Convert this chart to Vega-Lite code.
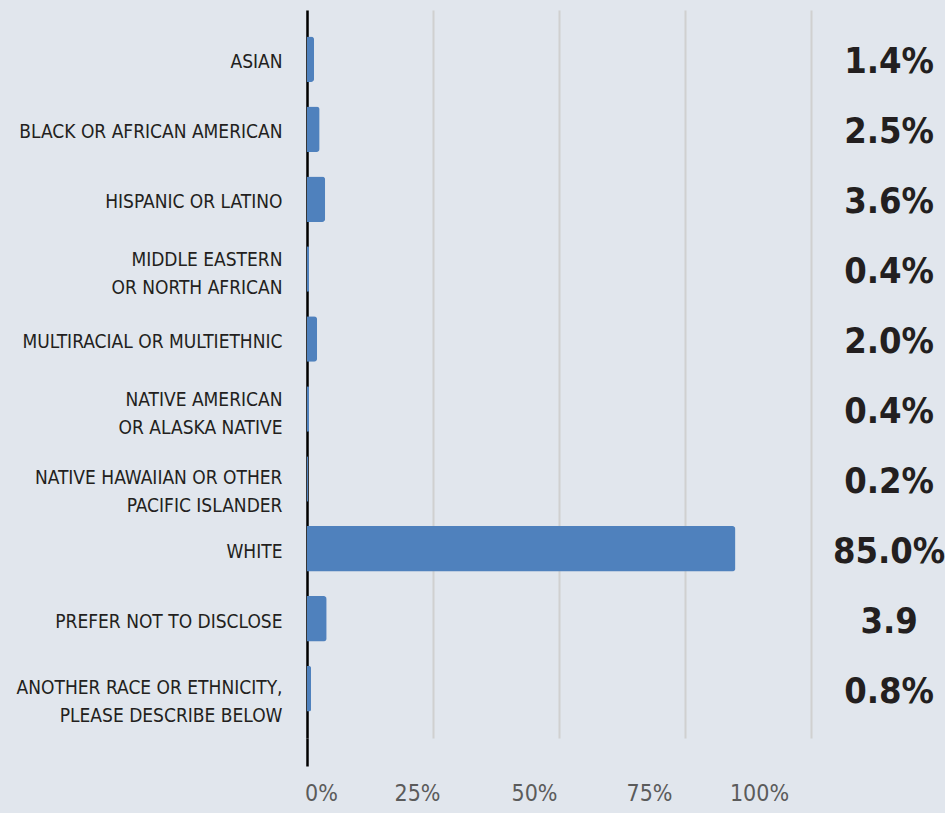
{
  "$schema": "https://vega.github.io/schema/vega-lite/v6.json",
  "autosize": {"type": "none"},
  "padding": {"left": 307, "top": 10, "right": 134, "bottom": 75},
  "width": 504,
  "height": 728,
  "background": "#e1e6ed",
  "config": {"view": {"stroke": null}},
  "data": {
    "values": [
      {"cat": "ASIAN", "pct": 1.4, "label": "1.4%"},
      {"cat": "BLACK OR AFRICAN AMERICAN", "pct": 2.5, "label": "2.5%"},
      {"cat": "HISPANIC OR LATINO", "pct": 3.6, "label": "3.6%"},
      {"cat": "MIDDLE EASTERN|OR NORTH AFRICAN", "pct": 0.4, "label": "0.4%"},
      {"cat": "MULTIRACIAL OR MULTIETHNIC", "pct": 2.0, "label": "2.0%"},
      {"cat": "NATIVE AMERICAN|OR ALASKA NATIVE", "pct": 0.4, "label": "0.4%"},
      {"cat": "NATIVE HAWAIIAN OR OTHER|PACIFIC ISLANDER", "pct": 0.2, "label": "0.2%"},
      {"cat": "WHITE", "pct": 85.0, "label": "85.0%"},
      {"cat": "PREFER NOT TO DISCLOSE", "pct": 3.9, "label": "3.9"},
      {"cat": "ANOTHER RACE OR ETHNICITY,|PLEASE DESCRIBE BELOW", "pct": 0.8, "label": "0.8%"}
    ]
  },
  "encoding": {
    "y": {
      "field": "cat",
      "type": "nominal",
      "sort": null,
      "title": null,
      "scale": {"paddingInner": 0.35, "paddingOuter": 0.38},
      "axis": {
        "labelExpr": "split(datum.label, '|')",
        "labelFont": "DejaVu Sans Condensed",
        "labelFontSize": 19,
        "labelColor": "#231f20",
        "labelLineHeight": 28,
        "labelPadding": 25,
        "labelOffset": {"expr": "indexof(datum.label, 'MIDDLE') >= 0 || indexof(datum.label, 'NATIVE AMERICAN') >= 0 ? -9 : indexof(datum.label, '|') >= 0 ? -1 : 3"},
        "ticks": false,
        "tickSize": 0,
        "domainColor": "#000000",
        "domainWidth": 2.5,
        "grid": false,
        "labelLimit": 400
      }
    }
  },
  "layer": [
    {
      "mark": {"type": "bar", "color": "#4f81bd", "cornerRadiusEnd": 3},
      "encoding": {
        "x": {
          "field": "pct",
          "type": "quantitative",
          "title": null,
          "scale": {"domain": [0, 100], "nice": false},
          "axis": {
            "values": [0, 25, 50, 75, 100],
            "labelExpr": "datum.value + '%'",
            "labelFont": "DejaVu Sans Condensed",
            "labelFontSize": 23,
            "labelColor": "#5b5b5b",
            "labelPadding": 16,
            "labelOffset": {"expr": "datum.value == 0 ? 14 : datum.value == 25 ? -16 : datum.value == 50 ? -25 : datum.value == 75 ? -36 : -52"},
            "tickSize": 28,
            "tickWidth": 2.5,
            "tickColor": {"condition": {"test": "datum.value == 0", "value": "#000000"}, "value": "transparent"},
            "domain": false,
            "grid": true,
            "gridColor": "#d0d0d0",
            "gridWidth": 2,
            "labelFlush": false
          }
        }
      }
    },
    {
      "mark": {
        "type": "text",
        "font": "DejaVu Sans Condensed",
        "fontWeight": "bold",
        "fontSize": 36,
        "color": "#231f20",
        "align": "center",
        "baseline": "middle",
        "dy": 3,
        "clip": false
      },
      "encoding": {
        "x": {"datum": 115.5, "type": "quantitative"},
        "text": {"field": "label"}
      }
    }
  ]
}
